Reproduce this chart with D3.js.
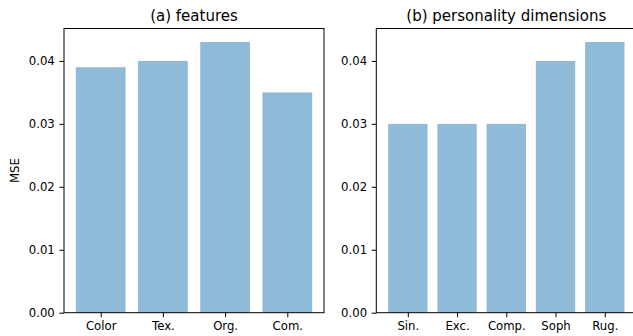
<!DOCTYPE html>
<html>
<head>
<meta charset="utf-8">
<script src="https://cdn.jsdelivr.net/npm/d3@7"></script>
<style>
    body { margin: 0; background: #fff; }
    svg { display: block; font-family: "DejaVu Sans", sans-serif; }
    .axis path, .axis line { stroke: #000; stroke-width: 1; }
</style>
</head>
<body>
<svg id="chart" width="633" height="336"></svg>
<script>
// data
const featureNames = ["Color", "Tex.", "Org.", "Com."];
const featureMSE = [0.039, 0.040, 0.043, 0.035];
const dimNames = ["Sin.", "Exc.", "Comp.", "Soph", "Rug."];
const dimMSE = [0.030, 0.030, 0.030, 0.040, 0.043];
const yTicks = [0.00, 0.01, 0.02, 0.03, 0.04];

const svg = d3.select("#chart");
const plotTop = 28.5, plotBottom = 312.7;
const barColor = "#8fbbd9";
const fontFamily = "'DejaVu Sans', sans-serif";
const tickFont = 11.7;

const scaleY = d3.scaleLinear()
    .domain([0, 0.04515])
    .range([plotBottom, plotTop]);

function panel(names, values, x0, x1, title, ylabel) {
    const n = names.length;
    const pad = (n - 0.2) * 0.05;
    const scaleX = d3.scaleLinear()
        .domain([-0.4 - pad, n - 0.6 + pad])
        .range([x0, x1]);

    const g = svg.append("g");

    g.selectAll("rect.bar")
        .data(values)
        .join("rect")
        .attr("class", "bar")
        .attr("x", (d, i) => scaleX(i - 0.4))
        .attr("width", (d, i) => scaleX(i + 0.4) - scaleX(i - 0.4))
        .attr("y", d => scaleY(d))
        .attr("height", d => scaleY(0) - scaleY(d))
        .style("fill", barColor);

    const axisY = d3.axisLeft(scaleY)
        .tickValues(yTicks)
        .tickFormat(d3.format(".2f"))
        .tickSize(4.6)
        .tickPadding(4.6)
        .tickSizeOuter(0);

    g.append("g")
        .attr("class", "axis axis-y")
        .attr("transform", `translate(${x0}, 0)`)
        .call(axisY)
        .attr("font-size", tickFont)
        .attr("font-family", fontFamily)
        .call(s => s.select(".domain").remove());

    const axisX = d3.axisBottom(scaleX)
        .tickValues(d3.range(n))
        .tickFormat(i => names[i])
        .tickSize(4.6)
        .tickPadding(4.8)
        .tickSizeOuter(0);

    g.append("g")
        .attr("class", "axis axis-x")
        .attr("transform", `translate(0, ${plotBottom})`)
        .call(axisX)
        .attr("font-size", tickFont)
        .attr("font-family", fontFamily)
        .call(s => s.select(".domain").remove());

    // spines
    g.append("rect")
        .attr("x", x0)
        .attr("y", plotTop)
        .attr("width", x1 - x0)
        .attr("height", plotBottom - plotTop)
        .style("fill", "none")
        .style("stroke", "#000")
        .style("stroke-width", 1);

    g.append("text")
        .attr("x", (x0 + x1) / 2)
        .attr("y", plotTop - 7.8)
        .attr("text-anchor", "middle")
        .attr("font-size", 15)
        .text(title);

    if (ylabel) {
        g.append("text")
            .attr("transform", `translate(${x0 - 45}, ${(plotTop + plotBottom) / 2}) rotate(-90)`)
            .attr("text-anchor", "middle")
            .attr("font-size", tickFont)
            .text(ylabel);
    }
}

panel(featureNames, featureMSE, 64, 324, "(a) features", "MSE");
panel(dimNames, dimMSE, 376.3, 636.3, "(b) personality dimensions", null);
</script>
</body>
</html>
